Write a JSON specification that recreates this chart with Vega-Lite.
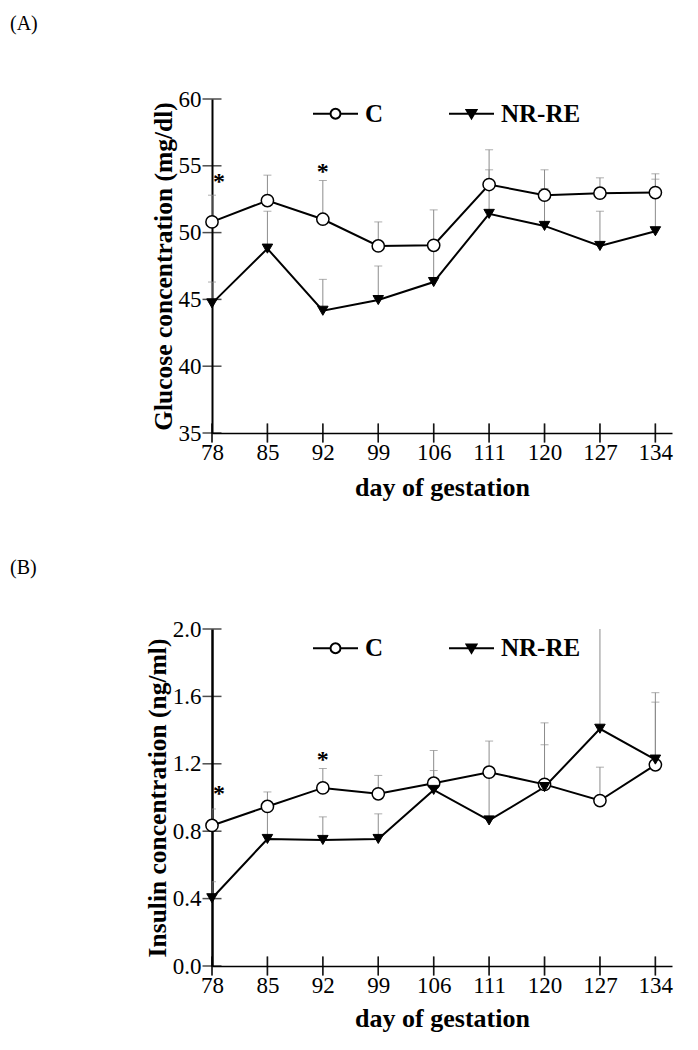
{
  "$schema": "https://vega.github.io/schema/vega-lite/v6.json",
  "background": "white",
  "padding": {"left": 10, "top": 14, "right": 10, "bottom": 10},
  "spacing": 58,
  "resolve": {
    "scale": {"shape": "independent", "fill": "independent", "stroke": "independent"},
    "legend": {"shape": "independent", "fill": "independent", "stroke": "independent"}
  },
  "config": {
    "font": "Liberation Serif",
    "view": {"stroke": null},
    "axis": {
      "grid": false, "ticks": false, "tickSize": 0,
      "domainColor": "black",
      "labelColor": "black", "labelFont": "Liberation Serif", "labelFontSize": 23,
      "titleFont": "Liberation Serif", "titleFontWeight": "bold", "titleColor": "black"
    },
    "axisX": {"titleFontSize": 26},
    "axisY": {"titleFontSize": 25.5},
    "legend": {
      "title": null, "orient": "none", "direction": "horizontal",
      "symbolSize": 2025, "symbolStrokeWidth": 2, "symbolStrokeColor": "black",
      "labelFont": "Liberation Serif", "labelFontSize": 25, "labelFontWeight": "bold", "labelColor": "black",
      "labelOffset": 6, "columnPadding": 61
    },
    "title": {"font": "Liberation Serif", "fontSize": 20, "fontWeight": "normal", "color": "black", "anchor": "start", "frame": "group"}
  },
  "datasets": {
    "glucose": [
      {"day": 78, "group": "C", "value": 50.8, "upper": 52.8},
      {"day": 85, "group": "C", "value": 52.4, "upper": 54.3},
      {"day": 92, "group": "C", "value": 51.0, "upper": 53.9},
      {"day": 99, "group": "C", "value": 49.0, "upper": 50.8},
      {"day": 106, "group": "C", "value": 49.05, "upper": 51.7},
      {"day": 111, "group": "C", "value": 53.6, "upper": 56.2},
      {"day": 120, "group": "C", "value": 52.8, "upper": 54.7},
      {"day": 127, "group": "C", "value": 52.95, "upper": 54.1},
      {"day": 134, "group": "C", "value": 53.0, "upper": 54.4},
      {"day": 78, "group": "NR-RE", "value": 44.7, "upper": 46.3},
      {"day": 85, "group": "NR-RE", "value": 48.8, "upper": 51.6},
      {"day": 92, "group": "NR-RE", "value": 44.15, "upper": 46.5},
      {"day": 99, "group": "NR-RE", "value": 44.95, "upper": 47.5},
      {"day": 106, "group": "NR-RE", "value": 46.3, "upper": 49.0},
      {"day": 111, "group": "NR-RE", "value": 51.4, "upper": 54.7},
      {"day": 120, "group": "NR-RE", "value": 50.5, "upper": 53.3},
      {"day": 127, "group": "NR-RE", "value": 49.0, "upper": 51.6},
      {"day": 134, "group": "NR-RE", "value": 50.1, "upper": 54.0}
    ],
    "glucoseStars": [
      {"day": 78, "y": 53.8},
      {"day": 92, "y": 54.5}
    ],
    "glucoseTicks": [{"tick": 35}, {"tick": 40}, {"tick": 45}, {"tick": 50}, {"tick": 55}, {"tick": 60}],
    "insulin": [
      {"day": 78, "group": "C", "value": 0.834, "upper": 0.932},
      {"day": 85, "group": "C", "value": 0.947, "upper": 1.033},
      {"day": 92, "group": "C", "value": 1.057, "upper": 1.172},
      {"day": 99, "group": "C", "value": 1.022, "upper": 1.131},
      {"day": 106, "group": "C", "value": 1.085, "upper": 1.279},
      {"day": 111, "group": "C", "value": 1.15, "upper": 1.335},
      {"day": 120, "group": "C", "value": 1.078, "upper": 1.313},
      {"day": 127, "group": "C", "value": 0.982, "upper": 1.18},
      {"day": 134, "group": "C", "value": 1.194, "upper": 1.566},
      {"day": 78, "group": "NR-RE", "value": 0.402, "upper": 0.5},
      {"day": 85, "group": "NR-RE", "value": 0.754, "upper": 0.93},
      {"day": 92, "group": "NR-RE", "value": 0.748, "upper": 0.885},
      {"day": 99, "group": "NR-RE", "value": 0.754, "upper": 0.903},
      {"day": 106, "group": "NR-RE", "value": 1.045, "upper": 1.16},
      {"day": 111, "group": "NR-RE", "value": 0.864, "upper": 1.15},
      {"day": 120, "group": "NR-RE", "value": 1.062, "upper": 1.443},
      {"day": 127, "group": "NR-RE", "value": 1.408, "upper": 2.05},
      {"day": 134, "group": "NR-RE", "value": 1.225, "upper": 1.622}
    ],
    "insulinStars": [
      {"day": 78, "y": 1.02},
      {"day": 92, "y": 1.224}
    ],
    "insulinTicks": [{"tick": 0}, {"tick": 0.4}, {"tick": 0.8}, {"tick": 1.2}, {"tick": 1.6}, {"tick": 2.0}]
  },
  "vconcat": [
    {
      "title": {"text": "(A)", "dx": -202, "offset": 54},
      "width": 460,
      "height": 334,
      "data": {"name": "glucose"},
      "encoding": {
        "x": {
          "field": "day", "type": "ordinal",
          "scale": {"type": "point", "domain": [78, 85, 92, 99, 106, 111, 120, 127, 134], "padding": 0.15, "align": 0},
          "axis": {"title": "day of gestation", "labelAngle": 0, "labelPadding": 8, "titlePadding": 10, "domainWidth": 1.5}
        }
      },
      "layer": [
        {
          "mark": {"type": "tick", "orient": "vertical", "color": "black", "thickness": 1.5, "size": 19},
          "encoding": {
            "y": {
              "datum": 35, "type": "quantitative",
              "scale": {"domain": [35, 60], "nice": false, "zero": false},
              "axis": {"title": "Glucose concentration (mg/dl)", "values": [35, 40, 45, 50, 55, 60], "labelPadding": 11, "titlePadding": 2, "domainWidth": 2}
            }
          }
        },
        {
          "data": {"name": "glucoseTicks"},
          "mark": {"type": "tick", "orient": "horizontal", "color": "black", "thickness": 1.5, "size": 19},
          "encoding": {
            "x": {"datum": 78, "type": "ordinal"},
            "y": {"field": "tick", "type": "quantitative"}
          }
        },
        {
          "mark": {"type": "rule", "color": "#8c8c8c", "strokeWidth": 1},
          "encoding": {
            "y": {"field": "value", "type": "quantitative"},
            "y2": {"field": "upper"}
          }
        },
        {
          "mark": {"type": "tick", "orient": "horizontal", "color": "#8c8c8c", "thickness": 1, "size": 8},
          "encoding": {"y": {"field": "upper", "type": "quantitative"}}
        },
        {
          "mark": {"type": "line", "strokeWidth": 2, "color": "black"},
          "encoding": {
            "y": {"field": "value", "type": "quantitative"},
            "detail": {"field": "group", "type": "nominal"}
          }
        },
        {
          "transform": [{"filter": "datum.group === 'C'"}],
          "mark": {"type": "point", "shape": "circle", "filled": true, "fill": "white", "stroke": "black", "strokeWidth": 1.5, "size": 150, "opacity": 1},
          "encoding": {"y": {"field": "value", "type": "quantitative"}}
        },
        {
          "transform": [{"filter": "datum.group === 'NR-RE'"}],
          "mark": {"type": "point", "shape": "triangle-down", "filled": true, "fill": "black", "stroke": "black", "strokeWidth": 1, "size": 110, "opacity": 1},
          "encoding": {"y": {"field": "value", "type": "quantitative"}}
        },
        {
          "transform": [{"filter": "false"}],
          "mark": {"type": "point", "filled": true, "strokeWidth": 2, "opacity": 1},
          "encoding": {
            "y": {"field": "value", "type": "quantitative"},
            "shape": {
              "field": "group", "type": "nominal",
              "scale": {"domain": ["C", "NR-RE"], "range": ["M-1,0L-0.22,0M0.22,0L1,0M0.22,0A0.22,0.22,0,1,1,-0.22,0A0.22,0.22,0,1,1,0.22,0", "M-1,0L1,0M-0.22,-0.17L0.22,-0.17L0,0.2Z"]},
              "legend": {"legendX": 100, "legendY": -9}
            },
            "fill": {
              "field": "group", "type": "nominal",
              "scale": {"domain": ["C", "NR-RE"], "range": ["white", "black"]},
              "legend": {"legendX": 100, "legendY": -9}
            },
            "stroke": {
              "field": "group", "type": "nominal",
              "scale": {"domain": ["C", "NR-RE"], "range": ["black", "black"]},
              "legend": {"legendX": 100, "legendY": -9}
            }
          }
        },
        {
          "data": {"name": "glucoseStars"},
          "mark": {"type": "text", "text": "*", "fontSize": 24, "fontWeight": "bold", "color": "black", "baseline": "middle", "align": "center", "dx": {"expr": "datum.day === 78 ? 7 : 0"}},
          "encoding": {
            "x": {"field": "day", "type": "ordinal"},
            "y": {"field": "y", "type": "quantitative"}
          }
        }
      ]
    },
    {
      "title": {"text": "(B)", "dx": -202, "offset": 40},
      "width": 460,
      "height": 337,
      "data": {"name": "insulin"},
      "encoding": {
        "x": {
          "field": "day", "type": "ordinal",
          "scale": {"type": "point", "domain": [78, 85, 92, 99, 106, 111, 120, 127, 134], "padding": 0.15, "align": 0},
          "axis": {"title": "day of gestation", "labelAngle": 0, "labelPadding": 8, "titlePadding": 8, "domainWidth": 1.5}
        }
      },
      "layer": [
        {
          "mark": {"type": "tick", "orient": "vertical", "color": "black", "thickness": 1.5, "size": 19},
          "encoding": {
            "y": {
              "datum": 0, "type": "quantitative",
              "scale": {"domain": [0, 2], "nice": false, "zero": false},
              "axis": {"title": "Insulin concentration (ng/ml)", "values": [0, 0.4, 0.8, 1.2, 1.6, 2.0], "format": ".1f", "labelPadding": 11, "titlePadding": 2, "domainWidth": 2.5}
            }
          }
        },
        {
          "data": {"name": "insulinTicks"},
          "mark": {"type": "tick", "orient": "horizontal", "color": "black", "thickness": 1.5, "size": 19},
          "encoding": {
            "x": {"datum": 78, "type": "ordinal"},
            "y": {"field": "tick", "type": "quantitative"}
          }
        },
        {
          "mark": {"type": "rule", "color": "#8c8c8c", "strokeWidth": 1, "clip": true},
          "encoding": {
            "y": {"field": "value", "type": "quantitative"},
            "y2": {"field": "upper"}
          }
        },
        {
          "mark": {"type": "tick", "orient": "horizontal", "color": "#8c8c8c", "thickness": 1, "size": 8, "clip": true},
          "encoding": {"y": {"field": "upper", "type": "quantitative"}}
        },
        {
          "mark": {"type": "line", "strokeWidth": 2, "color": "black"},
          "encoding": {
            "y": {"field": "value", "type": "quantitative"},
            "detail": {"field": "group", "type": "nominal"}
          }
        },
        {
          "transform": [{"filter": "datum.group === 'C'"}],
          "mark": {"type": "point", "shape": "circle", "filled": true, "fill": "white", "stroke": "black", "strokeWidth": 1.5, "size": 150, "opacity": 1},
          "encoding": {"y": {"field": "value", "type": "quantitative"}}
        },
        {
          "transform": [{"filter": "datum.group === 'NR-RE'"}],
          "mark": {"type": "point", "shape": "triangle-down", "filled": true, "fill": "black", "stroke": "black", "strokeWidth": 1, "size": 110, "opacity": 1},
          "encoding": {"y": {"field": "value", "type": "quantitative"}}
        },
        {
          "transform": [{"filter": "false"}],
          "mark": {"type": "point", "filled": true, "strokeWidth": 2, "opacity": 1},
          "encoding": {
            "y": {"field": "value", "type": "quantitative"},
            "shape": {
              "field": "group", "type": "nominal",
              "scale": {"domain": ["C", "NR-RE"], "range": ["M-1,0L-0.22,0M0.22,0L1,0M0.22,0A0.22,0.22,0,1,1,-0.22,0A0.22,0.22,0,1,1,0.22,0", "M-1,0L1,0M-0.22,-0.17L0.22,-0.17L0,0.2Z"]},
              "legend": {"legendX": 100, "legendY": -4.5}
            },
            "fill": {
              "field": "group", "type": "nominal",
              "scale": {"domain": ["C", "NR-RE"], "range": ["white", "black"]},
              "legend": {"legendX": 100, "legendY": -4.5}
            },
            "stroke": {
              "field": "group", "type": "nominal",
              "scale": {"domain": ["C", "NR-RE"], "range": ["black", "black"]},
              "legend": {"legendX": 100, "legendY": -4.5}
            }
          }
        },
        {
          "data": {"name": "insulinStars"},
          "mark": {"type": "text", "text": "*", "fontSize": 24, "fontWeight": "bold", "color": "black", "baseline": "middle", "align": "center", "dx": {"expr": "datum.day === 78 ? 7 : 0"}},
          "encoding": {
            "x": {"field": "day", "type": "ordinal"},
            "y": {"field": "y", "type": "quantitative"}
          }
        }
      ]
    }
  ]
}
